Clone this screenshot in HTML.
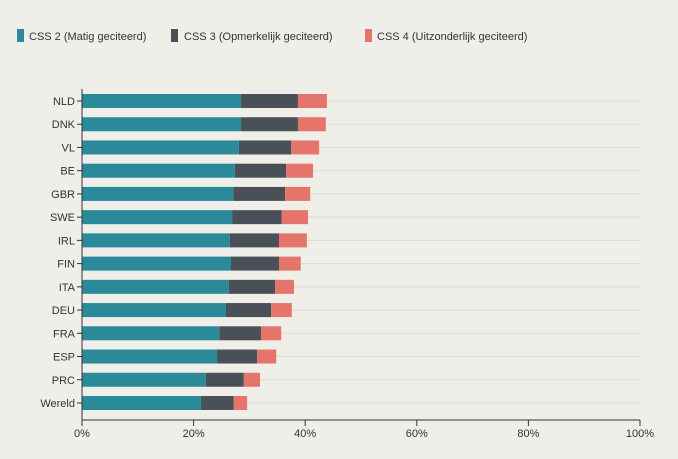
<!DOCTYPE html>
<html><head><meta charset="utf-8">
<style>
body{margin:0;background:#efeee9;font-family:"Liberation Sans",sans-serif;}
svg{display:block}
text{font-family:"Liberation Sans",sans-serif;font-size:11px;fill:#333}
</style></head>
<body>
<svg id="chart" width="678" height="459">
  <g>
    <g><rect x="17" y="29" width="7" height="13" fill="#2a8a99"/><text x="29" y="40">CSS 2 (Matig geciteerd)</text></g>
    <g><rect x="171" y="29" width="7" height="13" fill="#4a5058"/><text x="184" y="40">CSS 3 (Opmerkelijk geciteerd)</text></g>
    <g><rect x="365" y="29" width="7" height="13" fill="#e5746b"/><text x="377" y="40">CSS 4 (Uitzonderlijk geciteerd)</text></g>
  </g>
  <g id="grid"></g>
  <g id="bars"></g>
  <g id="axis"></g>
  <g id="ylabels"></g>
</svg>
<script>
const categories=["NLD","DNK","VL","BE","GBR","SWE","IRL","FIN","ITA","DEU","FRA","ESP","PRC","Wereld"];
const css2=[28.5,28.5,28.1,27.4,27.1,26.9,26.5,26.7,26.3,25.8,24.6,24.2,22.2,21.3];
const css3=[10.2,10.2,9.4,9.2,9.3,8.9,8.8,8.6,8.3,8.1,7.5,7.2,6.8,5.9];
const css4=[5.2,5.0,5.0,4.8,4.5,4.7,5.0,3.9,3.4,3.7,3.6,3.4,2.9,2.4];
const ticks=[0,20,40,60,80,100];
const NS="http://www.w3.org/2000/svg";
const x0=82,x1=640,yTop=101,step=23.23,bh=14;
const xs=v=>x0+(x1-x0)*v/100;
const ys=i=>yTop+i*step;
function mk(t,a,p){const e=document.createElementNS(NS,t);for(const k in a)e.setAttribute(k,a[k]);p.appendChild(e);return e;}
const grid=document.getElementById('grid'),bars=document.getElementById('bars'),axis=document.getElementById('axis'),yl=document.getElementById('ylabels');
categories.forEach((c,i)=>{
  const y=ys(i);
  const g=mk('line',{x1:x0,x2:x1,y1:y,y2:y,stroke:'#dcdbd5','stroke-width':1},grid);
  
  
  const segs=[[0,css2[i],'#2a8a99','css2'],[css2[i],css2[i]+css3[i],'#4a5058','css3'],[css2[i]+css3[i],css2[i]+css3[i]+css4[i],'#e5746b','css4']];
  segs.forEach(s=>{
    const r=mk('rect',{x:xs(s[0]),y:y-bh/2,width:xs(s[1])-xs(s[0]),height:bh,fill:s[2]},bars);
    
    
  });
  const tk=mk('line',{x1:x0-5,x2:x0,y1:y,y2:y,stroke:'#333'},yl);
  
  
  const t=mk('text',{x:x0-7,y:y+4,'text-anchor':'end'},yl);
  t.textContent=c;
  
  
});
const ax=mk('line',{x1:x0,x2:x1,y1:420,y2:420,stroke:'#333'},axis);


const yax=mk('line',{x1:x0,x2:x0,y1:89,y2:420,stroke:'#333'},axis);


ticks.forEach(v=>{
  const l=mk('line',{x1:xs(v),x2:xs(v),y1:420,y2:426,stroke:'#333'},axis);
  
  
  const t=mk('text',{x:xs(v),y:437,'text-anchor':'middle'},axis);
  t.textContent=v+'%';
  
  
});
</script>
</body></html>
